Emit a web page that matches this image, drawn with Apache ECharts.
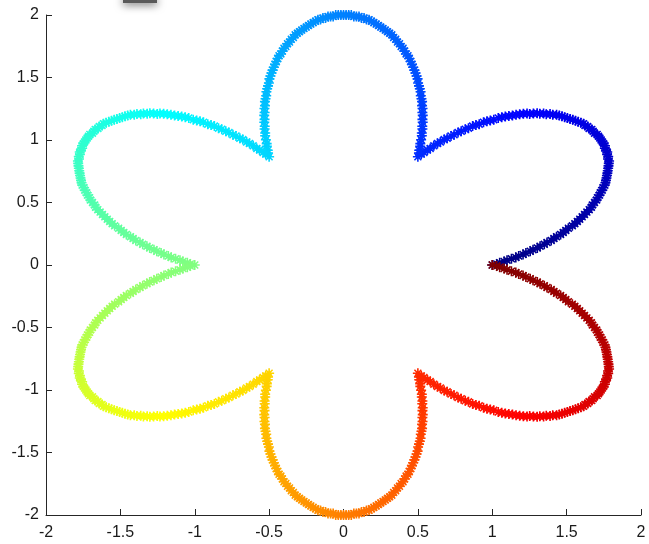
<!DOCTYPE html>
<html>
<head>
<meta charset="utf-8">
<script src="https://cdn.jsdelivr.net/npm/echarts@6/dist/echarts.min.js"></script>
<style>
html,body{margin:0;padding:0;background:#fff;}
#chart{width:649px;height:544px;}
</style>
</head>
<body>
<div id="chart"></div>
<script>
// Radius of the curve read every 0.5 degree, from 0 to 360 degrees (counter-clockwise from (1,0))
const angleStepDeg = 0.5;
const radii = [
1.00,1.03,1.05,1.08,1.10,1.13,1.16,1.18,1.21,1.23,1.26,1.28,1.31,1.33,1.36,1.38,1.41,1.43,1.45,1.48,1.50,1.52,1.54,1.57,1.59,1.61,1.63,1.65,1.67,1.69,1.71,1.73,1.74,1.76,1.78,1.79,1.81,1.82,1.84,1.85,1.87,1.88,1.89,1.90,1.91,1.92,1.93,1.94,1.95,1.96,1.97,1.97,1.98,1.98,1.99,1.99,1.99,2.00,2.00,2.00,2.00,2.00,2.00,2.00,1.99,1.99,1.99,1.98,1.98,1.97,1.97,1.96,1.95,1.94,1.93,1.92,1.91,1.90,1.89,1.88,1.87,1.85,1.84,1.82,1.81,1.79,1.78,1.76,1.74,1.73,1.71,1.69,1.67,1.65,1.63,1.61,1.59,1.57,1.54,1.52,1.50,1.48,1.45,1.43,1.41,1.38,1.36,1.33,1.31,1.28,1.26,1.23,1.21,1.18,1.16,1.13,1.10,1.08,1.05,1.03,
1.00,1.03,1.05,1.08,1.10,1.13,1.16,1.18,1.21,1.23,1.26,1.28,1.31,1.33,1.36,1.38,1.41,1.43,1.45,1.48,1.50,1.52,1.54,1.57,1.59,1.61,1.63,1.65,1.67,1.69,1.71,1.73,1.74,1.76,1.78,1.79,1.81,1.82,1.84,1.85,1.87,1.88,1.89,1.90,1.91,1.92,1.93,1.94,1.95,1.96,1.97,1.97,1.98,1.98,1.99,1.99,1.99,2.00,2.00,2.00,2.00,2.00,2.00,2.00,1.99,1.99,1.99,1.98,1.98,1.97,1.97,1.96,1.95,1.94,1.93,1.92,1.91,1.90,1.89,1.88,1.87,1.85,1.84,1.82,1.81,1.79,1.78,1.76,1.74,1.73,1.71,1.69,1.67,1.65,1.63,1.61,1.59,1.57,1.54,1.52,1.50,1.48,1.45,1.43,1.41,1.38,1.36,1.33,1.31,1.28,1.26,1.23,1.21,1.18,1.16,1.13,1.10,1.08,1.05,1.03,
1.00,1.03,1.05,1.08,1.10,1.13,1.16,1.18,1.21,1.23,1.26,1.28,1.31,1.33,1.36,1.38,1.41,1.43,1.45,1.48,1.50,1.52,1.54,1.57,1.59,1.61,1.63,1.65,1.67,1.69,1.71,1.73,1.74,1.76,1.78,1.79,1.81,1.82,1.84,1.85,1.87,1.88,1.89,1.90,1.91,1.92,1.93,1.94,1.95,1.96,1.97,1.97,1.98,1.98,1.99,1.99,1.99,2.00,2.00,2.00,2.00,2.00,2.00,2.00,1.99,1.99,1.99,1.98,1.98,1.97,1.97,1.96,1.95,1.94,1.93,1.92,1.91,1.90,1.89,1.88,1.87,1.85,1.84,1.82,1.81,1.79,1.78,1.76,1.74,1.73,1.71,1.69,1.67,1.65,1.63,1.61,1.59,1.57,1.54,1.52,1.50,1.48,1.45,1.43,1.41,1.38,1.36,1.33,1.31,1.28,1.26,1.23,1.21,1.18,1.16,1.13,1.10,1.08,1.05,1.03,
1.00,1.03,1.05,1.08,1.10,1.13,1.16,1.18,1.21,1.23,1.26,1.28,1.31,1.33,1.36,1.38,1.41,1.43,1.45,1.48,1.50,1.52,1.54,1.57,1.59,1.61,1.63,1.65,1.67,1.69,1.71,1.73,1.74,1.76,1.78,1.79,1.81,1.82,1.84,1.85,1.87,1.88,1.89,1.90,1.91,1.92,1.93,1.94,1.95,1.96,1.97,1.97,1.98,1.98,1.99,1.99,1.99,2.00,2.00,2.00,2.00,2.00,2.00,2.00,1.99,1.99,1.99,1.98,1.98,1.97,1.97,1.96,1.95,1.94,1.93,1.92,1.91,1.90,1.89,1.88,1.87,1.85,1.84,1.82,1.81,1.79,1.78,1.76,1.74,1.73,1.71,1.69,1.67,1.65,1.63,1.61,1.59,1.57,1.54,1.52,1.50,1.48,1.45,1.43,1.41,1.38,1.36,1.33,1.31,1.28,1.26,1.23,1.21,1.18,1.16,1.13,1.10,1.08,1.05,1.03,
1.00,1.03,1.05,1.08,1.10,1.13,1.16,1.18,1.21,1.23,1.26,1.28,1.31,1.33,1.36,1.38,1.41,1.43,1.45,1.48,1.50,1.52,1.54,1.57,1.59,1.61,1.63,1.65,1.67,1.69,1.71,1.73,1.74,1.76,1.78,1.79,1.81,1.82,1.84,1.85,1.87,1.88,1.89,1.90,1.91,1.92,1.93,1.94,1.95,1.96,1.97,1.97,1.98,1.98,1.99,1.99,1.99,2.00,2.00,2.00,2.00,2.00,2.00,2.00,1.99,1.99,1.99,1.98,1.98,1.97,1.97,1.96,1.95,1.94,1.93,1.92,1.91,1.90,1.89,1.88,1.87,1.85,1.84,1.82,1.81,1.79,1.78,1.76,1.74,1.73,1.71,1.69,1.67,1.65,1.63,1.61,1.59,1.57,1.54,1.52,1.50,1.48,1.45,1.43,1.41,1.38,1.36,1.33,1.31,1.28,1.26,1.23,1.21,1.18,1.16,1.13,1.10,1.08,1.05,1.03,
1.00,1.03,1.05,1.08,1.10,1.13,1.16,1.18,1.21,1.23,1.26,1.28,1.31,1.33,1.36,1.38,1.41,1.43,1.45,1.48,1.50,1.52,1.54,1.57,1.59,1.61,1.63,1.65,1.67,1.69,1.71,1.73,1.74,1.76,1.78,1.79,1.81,1.82,1.84,1.85,1.87,1.88,1.89,1.90,1.91,1.92,1.93,1.94,1.95,1.96,1.97,1.97,1.98,1.98,1.99,1.99,1.99,2.00,2.00,2.00,2.00,2.00,2.00,2.00,1.99,1.99,1.99,1.98,1.98,1.97,1.97,1.96,1.95,1.94,1.93,1.92,1.91,1.90,1.89,1.88,1.87,1.85,1.84,1.82,1.81,1.79,1.78,1.76,1.74,1.73,1.71,1.69,1.67,1.65,1.63,1.61,1.59,1.57,1.54,1.52,1.50,1.48,1.45,1.43,1.41,1.38,1.36,1.33,1.31,1.28,1.26,1.23,1.21,1.18,1.16,1.13,1.10,1.08,1.05,1.03,
1.00
];
const xTicks = [-2, -1.5, -1, -0.5, 0, 0.5, 1, 1.5, 2];
const yTicks = [-2, -1.5, -1, -0.5, 0, 0.5, 1, 1.5, 2];
const jetColors = ['#000080','#0000ff','#0080ff','#00ffff','#80ff80','#ffff00','#ff8000','#ff0000','#800000'];

// polar (read radius, angle) -> cartesian points, with point order as third value for colour
const points = radii.map(function (r, i) {
  const a = i * angleStepDeg * Math.PI / 180;
  return [r * Math.cos(a), r * Math.sin(a), i];
});

const asterisk = 'path://M0,4.2H10V5.8H0Z M4.2,0H5.8V10H4.2Z M1,2.1L2.1,1L9,7.9L7.9,9Z M7.9,1L9,2.1L2.1,9L1,7.9Z';

const chart = echarts.init(document.getElementById('chart'), null, {renderer: 'canvas'});
const axisCommon = {
  min: -2, max: 2, interval: 0.5,
  axisLine: {show: true, onZero: false, lineStyle: {color: '#262626', width: 1}},
  axisTick: {show: true, inside: true, length: 6, lineStyle: {color: '#262626'}},
  splitLine: {show: false},
  axisLabel: {
    color: '#1a1a1a', fontSize: 16, fontFamily: 'Liberation Sans, Arial, Helvetica, sans-serif',
    showMinLabel: true, showMaxLabel: true
  }
};
chart.setOption({
  animation: false,
  backgroundColor: '#ffffff',
  grid: {left: 46, right: 8, top: 15, bottom: 29, containLabel: false},
  xAxis: Object.assign({type: 'value'}, axisCommon, {
    axisLabel: Object.assign({}, axisCommon.axisLabel, {margin: 10,
      formatter: function (v) { return xTicks.indexOf(v) >= 0 ? String(v) : ''; }})
  }),
  yAxis: Object.assign({type: 'value'}, axisCommon, {
    axisLabel: Object.assign({}, axisCommon.axisLabel, {margin: 7,
      formatter: function (v) { return yTicks.indexOf(v) >= 0 ? String(v) : ''; }})
  }),
  visualMap: {
    show: false, type: 'continuous', dimension: 2,
    min: 0, max: radii.length - 1,
    inRange: {color: jetColors}
  },
  graphic: [{
    type: 'rect', left: 123, top: -4,
    shape: {width: 34, height: 7},
    style: {fill: '#5a5a5a', shadowBlur: 8, shadowColor: 'rgba(0,0,0,0.55)', shadowOffsetY: 2},
    z: 100
  }],
  series: [{
    type: 'scatter',
    data: points,
    symbol: asterisk,
    symbolSize: 10,
    large: false,
    itemStyle: {opacity: 1}
  }]
});
</script>
</body>
</html>
